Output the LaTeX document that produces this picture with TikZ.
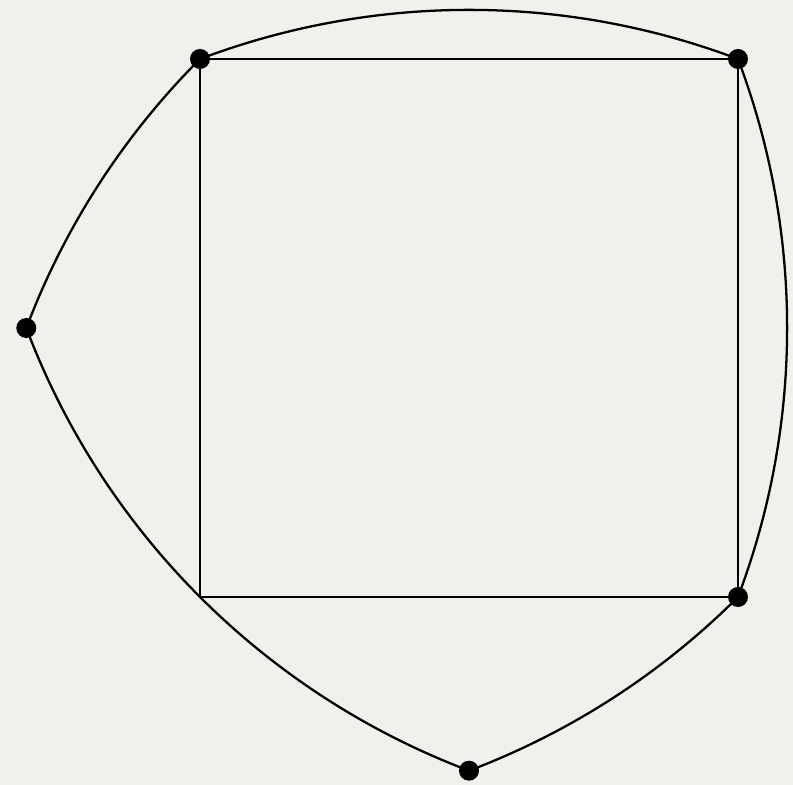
\documentclass[tikz,border=0pt]{standalone}
\definecolor{paper}{HTML}{F1F0EC}
\begin{document}
\begin{tikzpicture}[x=5.38cm,y=5.38cm,
  edge/.style={line width=0.65pt, black},
  dotpt/.style={circle, fill=black, inner sep=0pt, minimum size=0.2cm}]
\fill[paper] (-0.37175,-0.34944) rectangle (1.10223,1.10967);
\useasboundingbox (-0.37175,-0.34944) rectangle (1.10223,1.10967);
\coordinate (A) at (0,0);
\coordinate (B) at (1,0);
\coordinate (C) at (1,1);
\coordinate (D) at (0,1);
\coordinate (P) at (-0.322876,0.5);
\coordinate (Q) at (0.5,-0.322876);
% square
\draw[edge] (A) -- (B) -- (C) -- (D) -- cycle;
% arcs of radius sqrt(2)
\draw[edge] (D) arc[start angle=110.705, end angle=69.295, radius=1.414214];
\draw[edge] (C) arc[start angle=20.705, end angle=-20.705, radius=1.414214];
\draw[edge] (D) arc[start angle=135, end angle=159.295, radius=1.414214];
\draw[edge] (P) arc[start angle=200.705, end angle=249.295, radius=1.414214];
\draw[edge] (Q) arc[start angle=290.705, end angle=315, radius=1.414214];
% dots
\node[dotpt] (dD) at (D) {};
\node[dotpt] (dC) at (C) {};
\node[dotpt] (dB) at (B) {};
\node[dotpt] (dP) at (P) {};
\node[dotpt] (dQ) at (Q) {};
\end{tikzpicture}
\end{document}
